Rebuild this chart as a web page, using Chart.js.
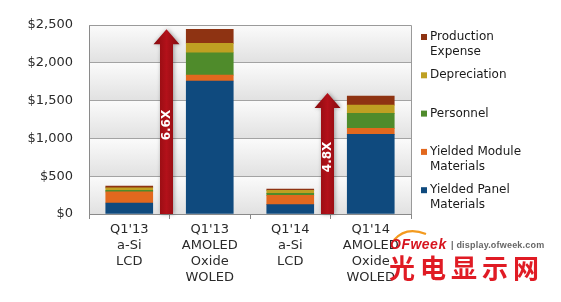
<!DOCTYPE html>
<html>
<head>
<meta charset="utf-8">
<script src="https://cdn.jsdelivr.net/npm/chart.js@4/dist/chart.umd.min.js"></script>
<style>
html,body{margin:0;padding:0;background:#fff;}
#wrap{position:relative;width:561px;height:302px;overflow:hidden;}
#wm1{position:absolute;left:390px;top:236px;font:italic bold 14px "Liberation Sans",sans-serif;color:#d7141e;letter-spacing:0.5px;}
#wm2{position:absolute;left:451px;top:240px;font:bold 9px "Liberation Sans",sans-serif;color:#666;letter-spacing:0.2px;}
#wm3{position:absolute;left:389px;top:252px;font:bold 26px "Noto Sans CJK SC",sans-serif;color:#e01b24;letter-spacing:5px;line-height:30px;}
#arc{position:absolute;left:392px;top:228px;}
</style>
</head>
<body>
<div id="wrap">
<canvas id="c" width="561" height="302"></canvas>
<svg id="arc" width="40" height="14"><path d="M2 12 Q 14 -2 34 6" stroke="#f39a1e" stroke-width="2.2" fill="none"/></svg>
<div id="wm1">OFweek</div>
<div id="wm2">| display.ofweek.com</div>
<div id="wm3">光电显示网</div>
</div>
<script>
// ---- data ----
const categories = [
  ["Q1'13", "a-Si", "LCD"],
  ["Q1'13", "AMOLED", "Oxide", "WOLED"],
  ["Q1'14", "a-Si", "LCD"],
  ["Q1'14", "AMOLED", "Oxide", "WOLED"]
];
const yieldedPanel = [145, 1759, 123, 1054];
const yieldedModule = [148, 79, 124, 79];
const personnel = [20, 295, 25, 198];
const depreciation = [33, 124, 40, 110];
const productionExpense = [22, 185, 18, 119];
const yTicks = [0, 500, 1000, 1500, 2000, 2500];
const arrowLabels = ["6.6X", "4.8X"];
const arrowFrom = [0, 2];
const arrowTops = [2445, 1602];
const legendLabels = [["Production", "Expense"], ["Depreciation"], ["Personnel"], ["Yielded Module", "Materials"], ["Yielded Panel", "Materials"]];

const colors = {
  panel: "#0f4a7e",
  module: "#e2681e",
  personnel: "#4f8b2b",
  depreciation: "#bfa022",
  production: "#8e3312"
};

const datasets = [
  {label: "Yielded Panel Materials", data: yieldedPanel, backgroundColor: colors.panel},
  {label: "Yielded Module Materials", data: yieldedModule, backgroundColor: colors.module},
  {label: "Personnel", data: personnel, backgroundColor: colors.personnel},
  {label: "Depreciation", data: depreciation, backgroundColor: colors.depreciation},
  {label: "Production Expense", data: productionExpense, backgroundColor: colors.production}
];
datasets.forEach(d => { d.barThickness = 47; d.borderWidth = 0; });

const bandPlugin = {
  id: 'bands',
  beforeDraw(chart) {
    const {ctx, chartArea: a, scales: {y}} = chart;
    ctx.save();
    for (let i = 0; i < yTicks.length - 1; i++) {
      const yb = y.getPixelForValue(yTicks[i]);
      const yt = y.getPixelForValue(yTicks[i + 1]);
      const g = ctx.createLinearGradient(0, yt, 0, yb);
      g.addColorStop(0, '#fbfbfb');
      g.addColorStop(1, '#e1e1e1');
      ctx.fillStyle = g;
      ctx.fillRect(a.left, yt, a.right - a.left, yb - yt);
    }
    ctx.restore();
  }
};

const overlayPlugin = {
  id: 'overlay',
  afterDraw(chart) {
    const {ctx, chartArea: a, scales: {x, y}} = chart;
    ctx.save();
    // plot border top/right
    ctx.strokeStyle = '#9a9a9a';
    ctx.lineWidth = 1;
    ctx.beginPath();
    ctx.moveTo(a.left, Math.round(a.top) + 0.5);
    ctx.lineTo(Math.round(a.right) + 0.5, Math.round(a.top) + 0.5);
    ctx.lineTo(Math.round(a.right) + 0.5, a.bottom);
    ctx.stroke();

    // arrows
    for (let i = 0; i < arrowLabels.length; i++) {
      const c0 = x.getPixelForValue(arrowFrom[i]);
      const c1 = x.getPixelForValue(arrowFrom[i] + 1);
      const cx = (c0 + c1) / 2 - 3;
      const yb = y.getPixelForValue(0);
      const yt = y.getPixelForValue(arrowTops[i]);
      const sw = 13, hw = 26, hh = 15;
      ctx.save();
      ctx.shadowColor = 'rgba(0,0,0,0.35)';
      ctx.shadowBlur = 4;
      ctx.shadowOffsetX = 1;
      ctx.shadowOffsetY = 0;
      const g = ctx.createLinearGradient(cx - hw / 2, 0, cx + hw / 2, 0);
      g.addColorStop(0, '#850b0e');
      g.addColorStop(0.5, '#b3111a');
      g.addColorStop(1, '#850b0e');
      ctx.fillStyle = g;
      ctx.beginPath();
      ctx.moveTo(cx, yt);
      ctx.lineTo(cx + hw / 2, yt + hh);
      ctx.lineTo(cx + sw / 2, yt + hh);
      ctx.lineTo(cx + sw / 2, yb);
      ctx.lineTo(cx - sw / 2, yb);
      ctx.lineTo(cx - sw / 2, yt + hh);
      ctx.lineTo(cx - hw / 2, yt + hh);
      ctx.closePath();
      ctx.fill();
      ctx.restore();
      ctx.save();
      ctx.translate(cx, (yt + hh + yb) / 2 - 4);
      ctx.rotate(-Math.PI / 2);
      ctx.fillStyle = '#ffffff';
      ctx.font = 'bold 12px "DejaVu Sans"';
      ctx.textAlign = 'center';
      ctx.textBaseline = 'middle';
      ctx.fillText(arrowLabels[i], 0, 0);
      ctx.restore();
    }

    // legend
    const legendColors = [colors.production, colors.depreciation, colors.personnel, colors.module, colors.panel];
    ctx.font = '12px "DejaVu Sans"';
    ctx.textBaseline = 'middle';
    ctx.textAlign = 'left';
    for (let i = 0; i < legendLabels.length; i++) {
      const ly = 37 + i * 38.3;
      ctx.fillStyle = legendColors[i];
      ctx.fillRect(421, ly - 3, 6, 6);
      ctx.fillStyle = '#1a1a1a';
      legendLabels[i].forEach((t, k) => ctx.fillText(t, 430, ly + k * 15));
    }
    ctx.restore();
  }
};

new Chart(document.getElementById('c'), {
  type: 'bar',
  data: {labels: categories, datasets},
  options: {
    responsive: false,
    animation: false,
    devicePixelRatio: 1,
    layout: {padding: {top: 25, right: 150, left: 0, bottom: 0}},
    plugins: {legend: {display: false}, tooltip: {enabled: false}},
    scales: {
      x: {
        stacked: true,
        afterFit(s) { s.height = 88; },
        grid: {display: true, drawOnChartArea: false, drawTicks: true, tickLength: 5, color: '#888', offset: true},
        border: {display: true, color: '#8a8a8a'},
        ticks: {color: '#2a2a2a', font: {family: 'DejaVu Sans', size: 13, lineHeight: 1.23}, maxRotation: 0, autoSkip: false, padding: 3}
      },
      y: {
        stacked: true,
        min: 0, max: 2500,
        afterFit(s) { s.width = 89; },
        grid: {color: '#a3a3a3', drawTicks: false},
        border: {display: true, color: '#8a8a8a'},
        ticks: {
          stepSize: 500, padding: 16, color: '#2a2a2a',
          font: {family: 'DejaVu Sans', size: 13},
          callback: v => '$' + v.toLocaleString('en-US')
        }
      }
    }
  },
  plugins: [bandPlugin, overlayPlugin]
});
</script>
</body>
</html>
